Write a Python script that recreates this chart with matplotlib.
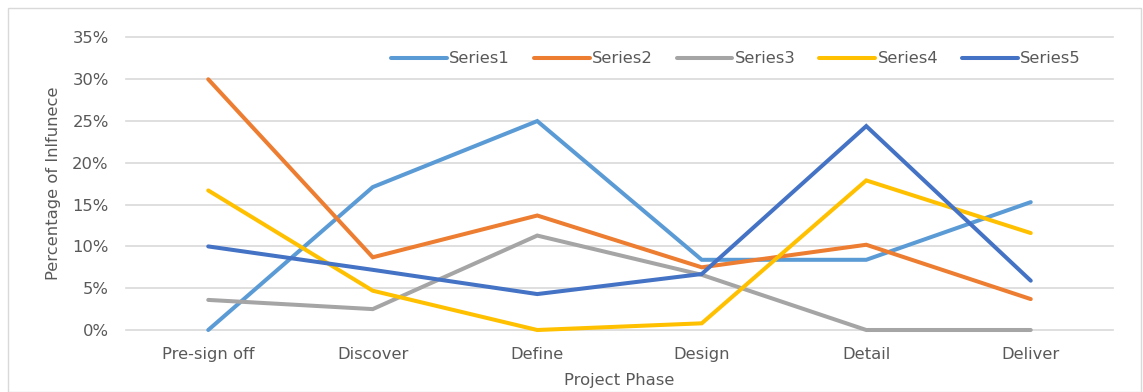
import matplotlib
matplotlib.use("Agg")
import matplotlib.pyplot as plt
from matplotlib.patches import Rectangle
from matplotlib.ticker import FuncFormatter, MultipleLocator

phases = ["Pre-sign off", "Discover", "Define", "Design", "Detail", "Deliver"]
series_names = ["Series1", "Series2", "Series3", "Series4", "Series5"]
series1 = [0.0, 17.1, 25.0, 8.4, 8.4, 15.3]
series2 = [30.0, 8.7, 13.7, 7.5, 10.2, 3.7]
series3 = [3.6, 2.5, 11.3, 6.6, 0.0, 0.0]
series4 = [16.7, 4.7, 0.0, 0.8, 17.9, 11.6]
series5 = [10.0, 7.2, 4.3, 6.7, 24.4, 5.9]
colors = ["#5B9BD5", "#ED7D31", "#A5A5A5", "#FFC000", "#4472C4"]

text_color = "#595959"
fs = 11.8
plt.rcParams["font.family"] = ["DejaVu Sans"]

W, H = 1143, 392
fig = plt.figure(figsize=(W / 100, H / 100), dpi=100)

# chart-area border
fig.patches.append(Rectangle((8 / W, 0.5 / H), (1141 - 8) / W, (384 - 0.5) / H,
                             transform=fig.transFigure, fill=False,
                             edgecolor="#d9d9d9", linewidth=1.0))

left, right, top, bottom = 126, 1113, 37.5, 330
ax = fig.add_axes([left / W, 1 - bottom / H, (right - left) / W, (bottom - top) / H])

x = list(range(len(phases)))
all_series = [series1, series2, series3, series4, series5]
for name, vals, c in zip(series_names, all_series, colors):
    ax.plot(x, [v / 100 for v in vals], color=c, linewidth=2.9,
            solid_capstyle="round", solid_joinstyle="miter", label=name,
            clip_on=False)

ax.set_xlim(-0.5, len(phases) - 0.5)
ax.set_ylim(0, 0.35)
ax.yaxis.set_major_locator(MultipleLocator(0.05))
ax.yaxis.set_major_formatter(FuncFormatter(lambda v, p: f"{round(v * 100)}%"))
ax.set_xticks(x)
ax.set_xticklabels(phases)
ax.grid(axis="y", color="#d9d9d9", linewidth=1.2)
ax.set_axisbelow(True)
for gl in ax.get_ygridlines():
    gl.set_clip_on(False)
for s in ax.spines.values():
    s.set_visible(False)
ax.tick_params(axis="both", length=0, labelsize=fs, colors=text_color)
ax.tick_params(axis="y", pad=12.5)
ax.tick_params(axis="x", pad=12)

ax.set_xlabel("Project Phase", fontsize=fs, color=text_color, labelpad=8)
ax.set_ylabel("Percentage of Inlfunece", fontsize=fs, color=text_color, labelpad=8)

leg = ax.legend(loc="upper center", bbox_to_anchor=(0.618, 1.0), ncol=5, frameon=False,
                fontsize=fs, handlelength=3.4, handletextpad=0.15, columnspacing=1.45,
                borderaxespad=0.45)
for t in leg.get_texts():
    t.set_color(text_color)

fig.savefig("out.png", dpi=100)
